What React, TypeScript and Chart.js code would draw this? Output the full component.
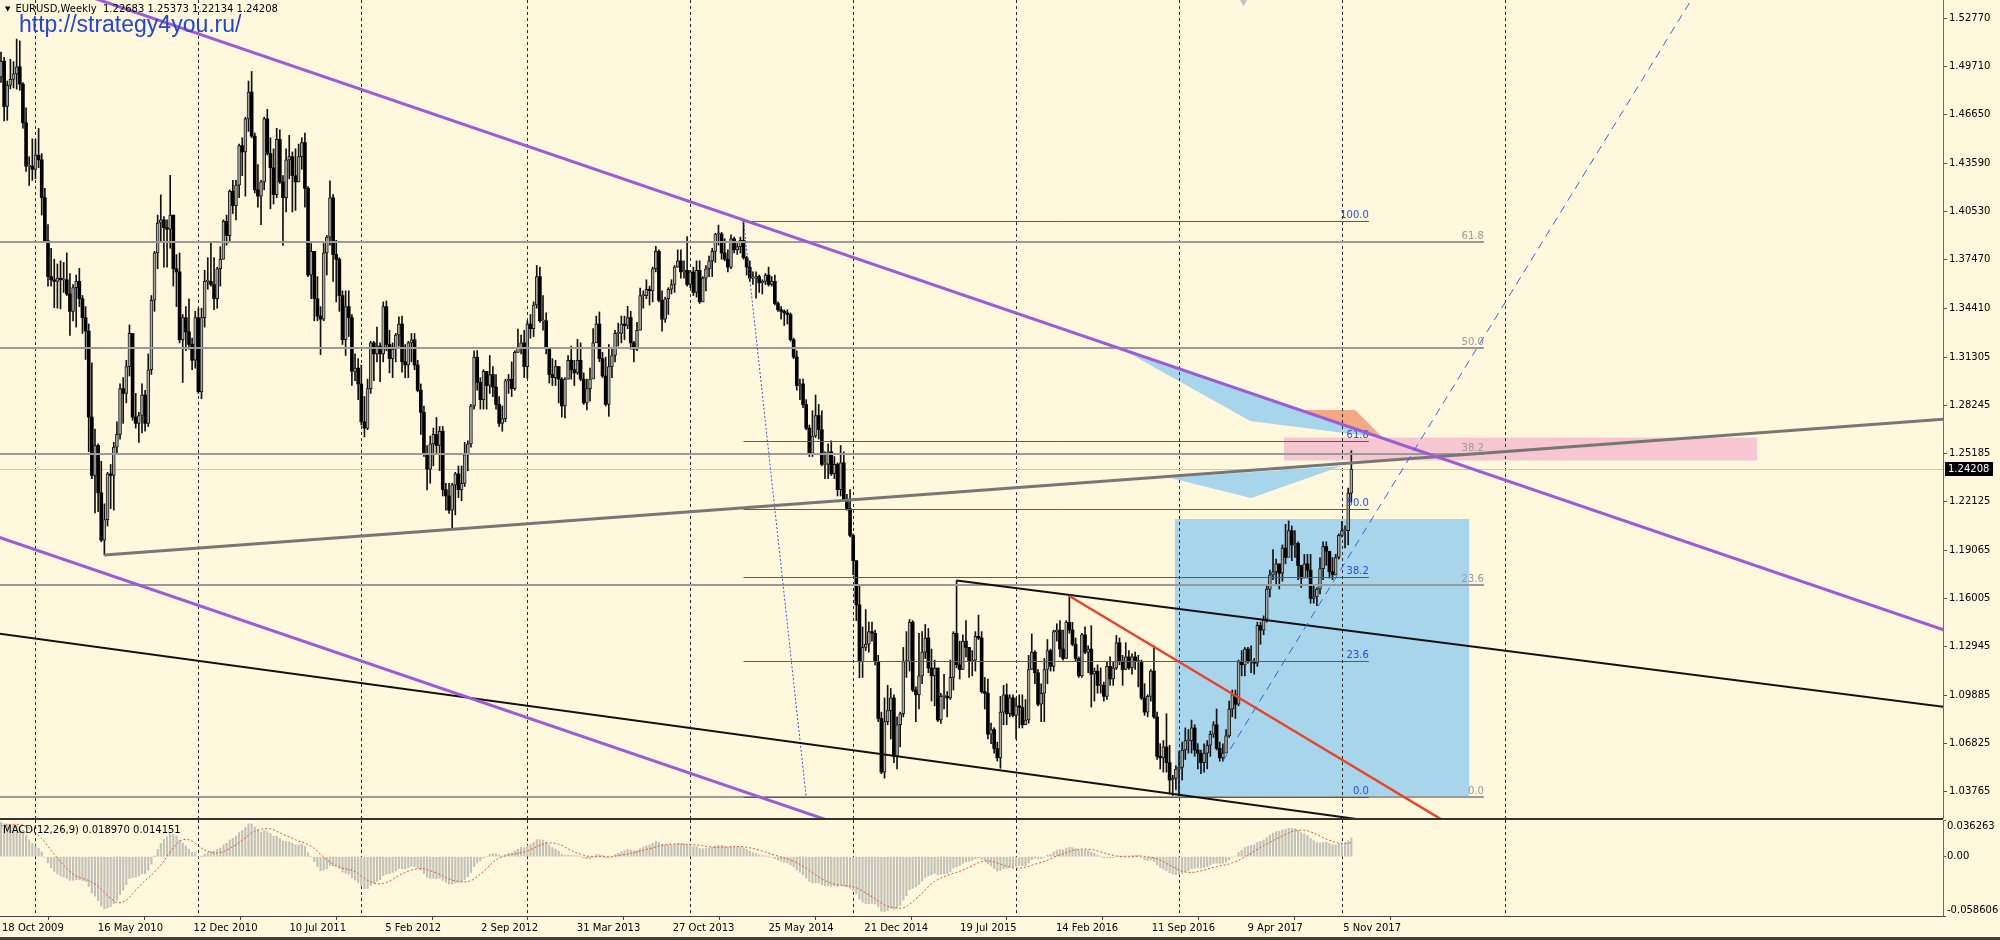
import React, { useEffect, useRef } from "react";
import { Chart, registerables } from "chart.js";

Chart.register(...registerables);

const BG = "#fff8dc";
const FONT = '"DejaVu Sans", sans-serif';

// ---- weekly EURUSD candles, bar 0 = week of 18 Oct 2009 ----
const FIRST_OPEN = 1.4905;
const CLOSE = [
  1.5005, 1.4718, 1.4853, 1.4890, 1.4925, 1.4970, 1.4860, 1.4615, 1.4340, 1.4340,
  1.4320, 1.4410, 1.4380, 1.4140, 1.3867, 1.3640, 1.3620, 1.3610, 1.3630, 1.3620,
  1.3620, 1.3530, 1.3420, 1.3570, 1.3610, 1.3500, 1.3380, 1.3295, 1.2750, 1.2380,
  1.2570, 1.2270, 1.1970, 1.2100, 1.2390, 1.2380, 1.2560, 1.2640, 1.2930, 1.2900,
  1.3070, 1.3280, 1.2750, 1.2710, 1.2760, 1.2890, 1.2710, 1.3050, 1.3490, 1.3790,
  1.3980, 1.4000, 1.3950, 1.3940, 1.4030, 1.3690, 1.3670, 1.3240, 1.3380, 1.3290,
  1.3210, 1.3110, 1.3380, 1.2910, 1.3380, 1.3610, 1.3610, 1.3590, 1.3500, 1.3690,
  1.3750, 1.3990, 1.3900, 1.4180, 1.4090, 1.4220, 1.4470, 1.4430, 1.4640, 1.4810,
  1.4530, 1.4190, 1.4150, 1.4240, 1.4640, 1.4420, 1.4330, 1.4160, 1.4510, 1.4240,
  1.4140, 1.4380, 1.4400, 1.4280, 1.4240, 1.4400, 1.4490, 1.4200, 1.3650, 1.3800,
  1.3500, 1.3390, 1.3370, 1.3790, 1.3890, 1.4140, 1.3780, 1.3750, 1.3520, 1.3240,
  1.3450, 1.3380, 1.3040, 1.3060, 1.2960, 1.2720, 1.2680, 1.2930, 1.3220, 1.3150,
  1.3200, 1.3150, 1.3450, 1.3210, 1.3120, 1.3180, 1.3270, 1.3340, 1.3100, 1.3080,
  1.3220, 1.3240, 1.3080, 1.2920, 1.2780, 1.2520, 1.2420, 1.2580, 1.2640, 1.2570,
  1.2660, 1.2290, 1.2250, 1.2160, 1.2320, 1.2390, 1.2290, 1.2330, 1.2510, 1.2580,
  1.2820, 1.3130, 1.2970, 1.2860, 1.3040, 1.2950, 1.3020, 1.2940, 1.2830, 1.2710,
  1.2740, 1.2980, 1.2990, 1.2930, 1.3160, 1.3190, 1.3220, 1.3070, 1.3340, 1.3310,
  1.3460, 1.3640, 1.3360, 1.3360, 1.3190, 1.3020, 1.3000, 1.3070, 1.2990, 1.2820,
  1.2990, 1.3110, 1.3050, 1.3030, 1.3110, 1.2990, 1.2840, 1.2930, 1.2990, 1.3220,
  1.3340, 1.3120, 1.3010, 1.2830, 1.3070, 1.3140, 1.3280, 1.3280, 1.3340, 1.3330,
  1.3380, 1.3220, 1.3180, 1.3300, 1.3520, 1.3520, 1.3560, 1.3550, 1.3690, 1.3800,
  1.3490, 1.3370, 1.3500, 1.3560, 1.3590, 1.3700, 1.3740, 1.3670, 1.3680, 1.3590,
  1.3670, 1.3540, 1.3680, 1.3480, 1.3630, 1.3690, 1.3740, 1.3800, 1.3910, 1.3910,
  1.3790, 1.3750, 1.3700, 1.3880, 1.3810, 1.3830, 1.3870, 1.3760, 1.3700, 1.3630,
  1.3630, 1.3640, 1.3600, 1.3610, 1.3650, 1.3590, 1.3610, 1.3470, 1.3430, 1.3420,
  1.3410, 1.3400, 1.3240, 1.3130, 1.2950, 1.2960, 1.2830, 1.2680, 1.2520, 1.2630,
  1.2760, 1.2670, 1.2450, 1.2450, 1.2530, 1.2390, 1.2450, 1.2290, 1.2460, 1.2230,
  1.2170, 1.2000, 1.1840, 1.1560, 1.1200, 1.1290, 1.1310, 1.1390, 1.1380, 1.1200,
  1.0840, 1.0500, 1.0820, 1.0890, 1.0970, 1.0600, 1.0800, 1.0870, 1.1200, 1.1200,
  1.1450, 1.1020, 1.0990, 1.1110, 1.1260, 1.1350, 1.1160, 1.1110, 1.1160, 1.0830,
  1.0980, 1.0980, 1.0970, 1.1100, 1.1380, 1.1180, 1.1150, 1.1330, 1.1290, 1.1200,
  1.1210, 1.1360, 1.1350, 1.1010, 1.1000, 1.0740, 1.0770, 1.0650, 1.0590, 1.0880,
  1.0990, 1.0870, 1.0970, 1.0860, 1.0920, 1.0910, 1.0800, 1.0830, 1.1150, 1.1260,
  1.1130, 1.0930, 1.1000, 1.1150, 1.1270, 1.1170, 1.1390, 1.1400, 1.1280, 1.1220,
  1.1450, 1.1400, 1.1310, 1.1220, 1.1110, 1.1370, 1.1260, 1.1280, 1.1120, 1.1140,
  1.1050, 1.1050, 1.0980, 1.1170, 1.1090, 1.1160, 1.1320, 1.1200, 1.1150, 1.1230,
  1.1160, 1.1230, 1.1200, 1.1200, 1.0970, 1.0880, 1.0980, 1.1140, 1.0850, 1.0600,
  1.0590, 1.0660, 1.0560, 1.0450, 1.0460, 1.0520, 1.0530, 1.0640, 1.0700, 1.0700,
  1.0780, 1.0640, 1.0620, 1.0560, 1.0620, 1.0670, 1.0740, 1.0800, 1.0650, 1.0590,
  1.0620, 1.0730, 1.0900, 1.0990, 1.0930, 1.1200, 1.1180, 1.1280, 1.1200, 1.1200,
  1.1190, 1.1430, 1.1400, 1.1470, 1.1660, 1.1750, 1.1770, 1.1820, 1.1760, 1.1920,
  1.1860, 1.2030, 1.1940, 1.1950, 1.1810, 1.1730, 1.1820, 1.1780, 1.1600, 1.1610,
  1.1660, 1.1790, 1.1930, 1.1900, 1.1770, 1.1750, 1.1860, 1.2000, 1.2030, 1.2030,
  1.2268, 1.24208,
];
const HIGH = [
  1.5063, 1.5030, 1.4880, 1.5017, 1.5002, 1.5145, 1.5134, 1.4870, 1.4710, 1.4400,
  1.4513, 1.4510, 1.4579, 1.4420, 1.4200, 1.3970, 1.3820, 1.3750, 1.3720, 1.3740,
  1.3730, 1.3790, 1.3660, 1.3590, 1.3650, 1.3692, 1.3520, 1.3450, 1.3340, 1.3094,
  1.2674, 1.2580, 1.2470, 1.2200, 1.2400, 1.2450, 1.2590, 1.2720, 1.2960, 1.3000,
  1.3110, 1.3334, 1.3240, 1.2900, 1.2780, 1.2960, 1.2920, 1.3150, 1.3520, 1.3800,
  1.4030, 1.4158, 1.4020, 1.4000, 1.4282, 1.4030, 1.3780, 1.3790, 1.3400, 1.3450,
  1.3499, 1.3250, 1.3420, 1.3440, 1.3440, 1.3680, 1.3760, 1.3862, 1.3760, 1.3700,
  1.3830, 1.4000, 1.4030, 1.4190, 1.4250, 1.4250, 1.4480, 1.4520, 1.4650, 1.4880,
  1.4940, 1.4550, 1.4350, 1.4250, 1.4650, 1.4700, 1.4520, 1.4450, 1.4580, 1.4570,
  1.4280, 1.4450, 1.4535, 1.4430, 1.4450, 1.4480, 1.4520, 1.4549, 1.4210, 1.3850,
  1.3790, 1.3640, 1.3450, 1.3850, 1.3900, 1.4247, 1.4160, 1.3870, 1.3760, 1.3550,
  1.3550, 1.3550, 1.3400, 1.3150, 1.3120, 1.3080, 1.2880, 1.2990, 1.3230, 1.3230,
  1.3320, 1.3220, 1.3480, 1.3486, 1.3300, 1.3220, 1.3280, 1.3385, 1.3390, 1.3210,
  1.3230, 1.3280, 1.3280, 1.3110, 1.2960, 1.2820, 1.2570, 1.2630, 1.2680, 1.2747,
  1.2690, 1.2690, 1.2330, 1.2330, 1.2330, 1.2400, 1.2440, 1.2440, 1.2590, 1.2600,
  1.2830, 1.3170, 1.3172, 1.3000, 1.3050, 1.3030, 1.3140, 1.3070, 1.3020, 1.2880,
  1.2820, 1.2990, 1.3020, 1.3100, 1.3170, 1.3308, 1.3270, 1.3300, 1.3360, 1.3400,
  1.3480, 1.3711, 1.3700, 1.3520, 1.3410, 1.3190, 1.3120, 1.3110, 1.3070, 1.3000,
  1.3000, 1.3140, 1.3200, 1.3110, 1.3243, 1.3220, 1.3030, 1.2990, 1.3060, 1.3310,
  1.3390, 1.3416, 1.3160, 1.3130, 1.3210, 1.3190, 1.3300, 1.3345, 1.3390, 1.3390,
  1.3452, 1.3420, 1.3230, 1.3350, 1.3568, 1.3550, 1.3620, 1.3580, 1.3700, 1.3832,
  1.3810, 1.3550, 1.3510, 1.3570, 1.3620, 1.3710, 1.3810, 1.3810, 1.3740, 1.3893,
  1.3680, 1.3700, 1.3740, 1.3740, 1.3640, 1.3710, 1.3770, 1.3820, 1.3915, 1.3967,
  1.3920, 1.3880, 1.3810, 1.3905, 1.3890, 1.3850, 1.3890, 1.3993, 1.3770, 1.3740,
  1.3670, 1.3670, 1.3650, 1.3620, 1.3660, 1.3700, 1.3640, 1.3650, 1.3480, 1.3450,
  1.3430, 1.3430, 1.3410, 1.3250, 1.3170, 1.2990, 1.2990, 1.2860, 1.2700, 1.2790,
  1.2890, 1.2830, 1.2790, 1.2530, 1.2580, 1.2600, 1.2500, 1.2460, 1.2570, 1.2530,
  1.2260, 1.2290, 1.2010, 1.1840, 1.1680, 1.1420, 1.1530, 1.1450, 1.1450, 1.1400,
  1.1240, 1.0880, 1.0970, 1.1050, 1.1030, 1.0990, 1.0850, 1.0880, 1.1290, 1.1390,
  1.1467, 1.1460, 1.1040, 1.1380, 1.1390, 1.1436, 1.1410, 1.1280, 1.1210, 1.1140,
  1.1000, 1.1120, 1.1010, 1.1210, 1.1390, 1.1714, 1.1330, 1.1370, 1.1460, 1.1290,
  1.1270, 1.1390, 1.1495, 1.1390, 1.1100, 1.1090, 1.0810, 1.0780, 1.0690, 1.0980,
  1.1050, 1.1059, 1.0990, 1.0990, 1.0970, 1.0990, 1.0990, 1.0960, 1.1240, 1.1376,
  1.1270, 1.1150, 1.1060, 1.1220, 1.1340, 1.1280, 1.1400, 1.1440, 1.1460, 1.1400,
  1.1460, 1.1616, 1.1450, 1.1350, 1.1230, 1.1380, 1.1420, 1.1300, 1.1428, 1.1160,
  1.1180, 1.1160, 1.1070, 1.1200, 1.1230, 1.1200, 1.1366, 1.1350, 1.1240, 1.1320,
  1.1270, 1.1250, 1.1260, 1.1240, 1.1210, 1.1060, 1.0990, 1.1150, 1.1300, 1.0880,
  1.0680, 1.0700, 1.0870, 1.0670, 1.0480, 1.0540, 1.0630, 1.0690, 1.0780, 1.0770,
  1.0830, 1.0800, 1.0680, 1.0640, 1.0680, 1.0700, 1.0760, 1.0820, 1.0900, 1.0690,
  1.0680, 1.0770, 1.0950, 1.1020, 1.1020, 1.1210, 1.1270, 1.1290, 1.1290, 1.1300,
  1.1220, 1.1450, 1.1450, 1.1490, 1.1680, 1.1780, 1.1910, 1.1850, 1.1800, 1.1940,
  1.2070, 1.2092, 1.2060, 1.2030, 1.1960, 1.1790, 1.1880, 1.1880, 1.1880, 1.1690,
  1.1670, 1.1860, 1.1960, 1.1960, 1.1880, 1.1860, 1.1880, 1.2010, 1.2090, 1.2060,
  1.2300, 1.25373,
];
const LOW = [
  1.4870, 1.4627, 1.4630, 1.4830, 1.4836, 1.4828, 1.4820, 1.4580, 1.4307, 1.4218,
  1.4250, 1.4260, 1.4330, 1.4030, 1.3857, 1.3580, 1.3580, 1.3443, 1.3440, 1.3436,
  1.3540, 1.3520, 1.3267, 1.3360, 1.3320, 1.3450, 1.3280, 1.3115, 1.2530, 1.2360,
  1.2143, 1.2150, 1.1960, 1.1876, 1.2060, 1.2170, 1.2160, 1.2520, 1.2610, 1.2710,
  1.2840, 1.3010, 1.2730, 1.2680, 1.2589, 1.2650, 1.2660, 1.2690, 1.3020, 1.3420,
  1.3690, 1.3860, 1.3700, 1.3700, 1.3820, 1.3580, 1.3450, 1.3220, 1.2969, 1.3170,
  1.3180, 1.3050, 1.3060, 1.2900, 1.2867, 1.3320, 1.3560, 1.3580, 1.3430, 1.3440,
  1.3580, 1.3750, 1.3840, 1.3860, 1.4040, 1.4000, 1.4140, 1.4280, 1.4150, 1.4560,
  1.4520, 1.4170, 1.4080, 1.3969, 1.4190, 1.4410, 1.4070, 1.4100, 1.4140, 1.4230,
  1.3838, 1.4050, 1.4260, 1.4050, 1.4060, 1.4240, 1.4320, 1.4080, 1.3640, 1.3500,
  1.3360, 1.3360, 1.3145, 1.3360, 1.3650, 1.3840, 1.3610, 1.3480, 1.3420, 1.3210,
  1.3140, 1.3260, 1.2950, 1.2980, 1.2860, 1.2700, 1.2624, 1.2670, 1.2900, 1.2980,
  1.3100, 1.2975, 1.3100, 1.3170, 1.3030, 1.3000, 1.3100, 1.3200, 1.3035, 1.3000,
  1.3000, 1.3100, 1.3050, 1.2910, 1.2640, 1.2500, 1.2288, 1.2330, 1.2440, 1.2520,
  1.2410, 1.2250, 1.2160, 1.2140, 1.2042, 1.2130, 1.2240, 1.2220, 1.2310, 1.2410,
  1.2560, 1.2800, 1.2920, 1.2800, 1.2800, 1.2800, 1.2900, 1.2880, 1.2800, 1.2690,
  1.2660, 1.2720, 1.2900, 1.2880, 1.2920, 1.3160, 1.3150, 1.3000, 1.2995, 1.3250,
  1.3260, 1.3440, 1.3350, 1.3300, 1.3150, 1.2966, 1.2950, 1.2950, 1.2840, 1.2750,
  1.2745, 1.2990, 1.2990, 1.2950, 1.3020, 1.2980, 1.2830, 1.2796, 1.2850, 1.3020,
  1.3250, 1.3100, 1.3000, 1.2820, 1.2755, 1.3000, 1.3100, 1.3200, 1.3220, 1.3240,
  1.3310, 1.3180, 1.3100, 1.3170, 1.3300, 1.3440, 1.3500, 1.3460, 1.3480, 1.3670,
  1.3480, 1.3295, 1.3350, 1.3400, 1.3530, 1.3540, 1.3700, 1.3630, 1.3630, 1.3580,
  1.3570, 1.3520, 1.3510, 1.3470, 1.3480, 1.3550, 1.3640, 1.3640, 1.3730, 1.3840,
  1.3750, 1.3740, 1.3670, 1.3690, 1.3790, 1.3780, 1.3790, 1.3750, 1.3650, 1.3610,
  1.3590, 1.3503, 1.3540, 1.3530, 1.3590, 1.3580, 1.3580, 1.3460, 1.3420, 1.3370,
  1.3330, 1.3340, 1.3230, 1.3120, 1.2920, 1.2860, 1.2810, 1.2670, 1.2500, 1.2500,
  1.2620, 1.2610, 1.2440, 1.2360, 1.2360, 1.2380, 1.2360, 1.2250, 1.2250, 1.2220,
  1.2160, 1.1990, 1.1750, 1.1460, 1.1098, 1.1100, 1.1270, 1.1260, 1.1330, 1.1180,
  1.0820, 1.0490, 1.0462, 1.0800, 1.0710, 1.0560, 1.0520, 1.0660, 1.0850, 1.1100,
  1.1140, 1.1010, 1.0820, 1.0900, 1.1060, 1.1220, 1.1130, 1.0950, 1.0920, 1.0820,
  1.0809, 1.0900, 1.0850, 1.0960, 1.1020, 1.1160, 1.1090, 1.1150, 1.1230, 1.1100,
  1.1110, 1.1140, 1.1340, 1.1000, 1.0900, 1.0710, 1.0680, 1.0620, 1.0570, 1.0524,
  1.0800, 1.0800, 1.0850, 1.0850, 1.0710, 1.0780, 1.0780, 1.0800, 1.0810, 1.1150,
  1.1060, 1.0920, 1.0820, 1.0820, 1.1060, 1.1140, 1.1140, 1.1330, 1.1230, 1.1210,
  1.1220, 1.1380, 1.1300, 1.1200, 1.1100, 1.1100, 1.1250, 1.1130, 1.0912, 1.0950,
  1.1000, 1.1000, 1.0950, 1.0960, 1.1050, 1.1050, 1.1150, 1.1180, 1.1050, 1.1150,
  1.1150, 1.1120, 1.1150, 1.1040, 1.0960, 1.0860, 1.0850, 1.0950, 1.0840, 1.0580,
  1.0520, 1.0500, 1.0500, 1.0370, 1.0352, 1.0390, 1.0340, 1.0450, 1.0580, 1.0620,
  1.0620, 1.0600, 1.0520, 1.0490, 1.0500, 1.0520, 1.0600, 1.0720, 1.0640, 1.0570,
  1.0570, 1.0640, 1.0720, 1.0850, 1.0840, 1.0920, 1.1110, 1.1110, 1.1190, 1.1130,
  1.1120, 1.1170, 1.1310, 1.1370, 1.1450, 1.1610, 1.1720, 1.1690, 1.1660, 1.1710,
  1.1820, 1.1900, 1.1840, 1.1860, 1.1720, 1.1670, 1.1730, 1.1730, 1.1570, 1.1570,
  1.1554, 1.1630, 1.1720, 1.1810, 1.1730, 1.1720, 1.1750, 1.1850, 1.1990, 1.1920,
  1.1940, 1.22134,
];
// closes of the weeks before the first visible bar (Mar–Oct 2009), only to warm up the MACD
const PRE_CLOSE = [
  1.2920, 1.3580, 1.3580, 1.3270, 1.3500, 1.3200, 1.3240, 1.3280, 1.3380, 1.3490,
  1.3990, 1.4140, 1.4270, 1.3920, 1.3990, 1.4030, 1.4030, 1.3940, 1.4100, 1.4220,
  1.4080, 1.4340, 1.4180, 1.4320, 1.4330, 1.4310, 1.4570, 1.4720, 1.4670, 1.4580,
  1.4720, 1.4880,
];

// ---- axes ----
const DATE_LABELS = [
  "18 Oct 2009", "16 May 2010", "12 Dec 2010", "10 Jul 2011", "5 Feb 2012",
  "2 Sep 2012", "31 Mar 2013", "27 Oct 2013", "25 May 2014", "21 Dec 2014",
  "19 Jul 2015", "14 Feb 2016", "11 Sep 2016", "9 Apr 2017", "5 Nov 2017",
];
const DATE_LABEL_BARS = [0, 30.58, 61.16, 91.74, 122.32, 152.9, 183.48, 214.06, 244.64, 275.22, 305.8, 336.38, 366.96, 397.54, 428.12];
const YEAR_GRID_BARS = [11, 63, 115, 168, 220, 272, 324, 376, 428, 480];
const PRICE_TICKS = [1.5277, 1.4971, 1.4665, 1.4359, 1.4053, 1.3747, 1.3441, 1.31305, 1.28245, 1.25185, 1.22125, 1.19065, 1.16005, 1.12945, 1.09885, 1.06825, 1.03765];
const MACD_TICKS = [0.036263, 0, -0.058606];
const MACD_TICK_LABELS = ["0.036263", "0.00", "-0.058606"];
const LAST_PRICE = 1.24208;

const BAR_MIN = -0.32;
const BAR_MAX = 619.85;
const PRICE_MIN = 1.02092;
const PRICE_MAX = 1.5393;
const MACD_MIN = -0.058606;
const MACD_MAX = 0.036263;

// ---- drawn objects, in (bar, price) ----
const PURPLE_UPPER = [[0, 1.5606], [620, 1.1402]];
const PURPLE_LOWER = [[-1, 1.1991], [300, 0.995]];
const BLACK_LOWER = [[-1, 1.1378], [440, 1.0183]];
const BLACK_UPPER = [[305, 1.1714], [620, 1.0914]];
const RED_LINE = [[341, 1.1616], [470, 1.0078]];
const GREY_RISING = [[33, 1.1876], [620, 1.2737]];
const BLUE_DOTTED = [[237, 1.3993], [257, 1.034]];
const BLUE_DASHED = [[390, 1.057], [540, 1.5409]];
const GREY_FIB_PRICES = [1.6037, 1.034];
const GREY_FIB_BARS = [-1, 473.3];
const GREY_FIB_LEVELS = [0, 23.6, 38.2, 50, 61.8];
const BLUE_FIB_PRICES = [1.3993, 1.034];
const BLUE_FIB_BARS = [237, 436.6];
const BLUE_FIB_LEVELS = [0, 23.6, 38.2, 50, 61.8, 100];
const BLUE_BOX = [[374.7, 1.034], [468.6, 1.2104]];
const PINK_BOX = [[409.5, 1.2475], [560.5, 1.262]];
const BLUE_TRI_UPPER = [[357.8, 1.318], [398.7, 1.2725], [440, 1.262]];
const BLUE_TRI_LOWER = [[373, 1.2366], [399, 1.2237], [428, 1.244]];
const ORANGE_TRI = [[414.6, 1.2795], [432.2, 1.2795], [441.4, 1.2613]];
const GREY_MARK = [[394.6, 1.5425], [398.6, 1.5425], [396.6, 1.5352]];

function emaSeries(vals: number[], p: number) {
  const k = 2 / (p + 1);
  const out: number[] = [];
  vals.forEach((v, i) => out.push(i === 0 ? v : v * k + out[i - 1] * (1 - k)));
  return out;
}

export default function App() {
  const mainRef = useRef<HTMLCanvasElement>(null);
  const macdRef = useRef<HTMLCanvasElement>(null);

  useEffect(() => {
    document.body.style.margin = "0";
    document.body.style.background = BG;
    Chart.defaults.font.family = FONT;
    Chart.defaults.font.size = 10;

    const opens = CLOSE.map((c, i) => (i === 0 ? FIRST_OPEN : CLOSE[i - 1]));
    const isBull = (i: number) => CLOSE[i] >= opens[i];

    const all = [...PRE_CLOSE, ...CLOSE];
    const e12 = emaSeries(all, 12);
    const e26 = emaSeries(all, 26);
    const mAll = all.map((_, i) => e12[i] - e26[i]);
    const sAll = mAll.map((_, i) => {
      const w = mAll.slice(Math.max(0, i - 8), i + 1);
      return w.reduce((a, b) => a + b, 0) / w.length;
    });
    const macd = mAll.slice(PRE_CLOSE.length);
    const signal = sAll.slice(PRE_CLOSE.length);

    const mainPlugin = {
      id: "mainObjects",
      beforeDatasetsDraw(chart: any) {
        const { ctx, chartArea: a, scales } = chart;
        const X = (b: number) => scales.x.getPixelForValue(b);
        const Y = (p: number) => scales.y.getPixelForValue(p);
        ctx.save();
        ctx.beginPath();
        ctx.rect(a.left, a.top, a.right - a.left, a.bottom - a.top);
        ctx.clip();
        const box = (r: number[][], color: string) => {
          const x0 = X(r[0][0]), x1 = X(r[1][0]), y0 = Y(r[1][1]), y1 = Y(r[0][1]);
          ctx.fillStyle = color;
          ctx.fillRect(x0, y0, x1 - x0, y1 - y0);
        };
        const tri = (pts: number[][], color: string) => {
          ctx.fillStyle = color;
          ctx.beginPath();
          pts.forEach((p, i) => (i === 0 ? ctx.moveTo(X(p[0]), Y(p[1])) : ctx.lineTo(X(p[0]), Y(p[1]))));
          ctx.closePath();
          ctx.fill();
        };
        box(BLUE_BOX, "#a7d5ec");
        box(PINK_BOX, "#f6c6d1");
        tri(BLUE_TRI_UPPER, "#a7d5ec");
        tri(BLUE_TRI_LOWER, "#a7d5ec");
        tri(ORANGE_TRI, "#f3a984");
        tri(GREY_MARK, "#c9c2c2");
        ctx.strokeStyle = "#2a2a2a";
        ctx.lineWidth = 1;
        ctx.setLineDash([3, 3]);
        YEAR_GRID_BARS.forEach((b) => {
          const px = Math.round(X(b)) + 0.5;
          ctx.beginPath();
          ctx.moveTo(px, a.top);
          ctx.lineTo(px, a.bottom);
          ctx.stroke();
        });
        ctx.setLineDash([]);
        const ly = Math.round(Y(LAST_PRICE)) + 0.5;
        ctx.strokeStyle = "#c8c8c8";
        ctx.beginPath();
        ctx.moveTo(a.left, ly);
        ctx.lineTo(a.right, ly);
        ctx.stroke();
        ctx.restore();
      },
      afterDatasetsDraw(chart: any) {
        const { ctx, chartArea: a, scales } = chart;
        const X = (b: number) => scales.x.getPixelForValue(b);
        const Y = (p: number) => scales.y.getPixelForValue(p);
        ctx.save();
        ctx.beginPath();
        ctx.rect(a.left, a.top, a.right - a.left, a.bottom - a.top);
        ctx.clip();
        ctx.font = "10px " + FONT;
        const fib = (prices: number[], bars: number[], levels: number[], lc: string, tc: string, lw: number) => {
          const [hi, lo] = prices;
          const x0 = X(bars[0]), x1 = X(bars[1]);
          levels.forEach((l) => {
            const py = Math.round(Y(lo + ((hi - lo) * l) / 100)) + (lw === 1 ? 0.5 : 0);
            ctx.strokeStyle = lc;
            ctx.lineWidth = lw;
            ctx.beginPath();
            ctx.moveTo(x0, py);
            ctx.lineTo(x1, py);
            ctx.stroke();
            ctx.fillStyle = tc;
            ctx.textAlign = "right";
            ctx.textBaseline = "bottom";
            ctx.fillText(l.toFixed(1), x1, py - 1);
          });
        };
        fib(GREY_FIB_PRICES, GREY_FIB_BARS, GREY_FIB_LEVELS, "#9a9a9a", "#9a9a9a", 2);
        fib(BLUE_FIB_PRICES, BLUE_FIB_BARS, BLUE_FIB_LEVELS, "#3a56d4", "#2a4fe0", 1);
        const seg = (pts: number[][], color: string, w: number, dash: number[] = []) => {
          ctx.strokeStyle = color;
          ctx.lineWidth = w;
          ctx.setLineDash(dash);
          ctx.beginPath();
          pts.forEach((p, i) => (i === 0 ? ctx.moveTo(X(p[0]), Y(p[1])) : ctx.lineTo(X(p[0]), Y(p[1]))));
          ctx.stroke();
          ctx.setLineDash([]);
        };
        seg(BLUE_DOTTED, "#3a56d4", 1, [2, 2]);
        seg(BLACK_LOWER, "#111111", 2);
        seg(BLACK_UPPER, "#111111", 2);
        seg(RED_LINE, "#e8452c", 2.5);
        seg(GREY_RISING, "#777777", 3);
        seg(PURPLE_UPPER, "#9d5bd6", 3);
        seg(PURPLE_LOWER, "#9d5bd6", 3);
        seg(BLUE_DASHED, "#3466dd", 1, [8, 6]);
        ctx.restore();
      },
      afterDraw(chart: any) {
        const { ctx, chartArea: a, scales } = chart;
        ctx.save();
        ctx.fillStyle = "#333333";
        ctx.fillRect(0, a.bottom, a.right, 2);
        const py = Math.round(scales.y.getPixelForValue(LAST_PRICE));
        ctx.fillStyle = "#000000";
        ctx.fillRect(a.right + 2, py - 7, 48, 14);
        ctx.fillStyle = "#ffffff";
        ctx.font = "10px " + FONT;
        ctx.textAlign = "left";
        ctx.textBaseline = "middle";
        ctx.fillText(LAST_PRICE.toFixed(5), a.right + 5, py + 0.5);
        ctx.restore();
      },
    };

    const macdPlugin = {
      id: "macdObjects",
      beforeDatasetsDraw(chart: any) {
        const { ctx, chartArea: a, scales } = chart;
        ctx.save();
        ctx.strokeStyle = "#2a2a2a";
        ctx.lineWidth = 1;
        ctx.setLineDash([3, 3]);
        YEAR_GRID_BARS.forEach((b) => {
          const px = Math.round(scales.x.getPixelForValue(b)) + 0.5;
          if (px > a.right) return;
          ctx.beginPath();
          ctx.moveTo(px, a.top);
          ctx.lineTo(px, a.bottom);
          ctx.stroke();
        });
        ctx.restore();
      },
      afterDraw(chart: any) {
        const { ctx, chartArea: a, scales } = chart;
        ctx.save();
        ctx.font = "10px " + FONT;
        ctx.fillStyle = "#000000";
        ctx.textAlign = "left";
        MACD_TICKS.forEach((v, i) => {
          const y = scales.y.getPixelForValue(v);
          ctx.textBaseline = i === 0 ? "top" : i === MACD_TICKS.length - 1 ? "bottom" : "middle";
          ctx.fillText(MACD_TICK_LABELS[i], a.right + 4, y + (i === 0 ? 1 : i === MACD_TICKS.length - 1 ? -1 : 0));
        });
        ctx.restore();
      },
    };

    const yAxisFit = (s: any) => {
      s.width = 57;
      s.paddingTop = 0;
      s.paddingBottom = 0;
    };

    const main = new Chart(mainRef.current as HTMLCanvasElement, {
      type: "bar",
      data: {
        datasets: [
          {
            type: "bar",
            data: CLOSE.map((c, i) => ({ x: i, y: [opens[i], c] })) as any,
            barThickness: 3,
            minBarLength: 1,
            grouped: false,
            order: 1,
            borderSkipped: false,
            backgroundColor: (c: any) => (isBull(c.dataIndex) ? "#a9a9a2" : "#000000"),
            borderColor: "#1a1a1a",
            borderWidth: (c: any) => (isBull(c.dataIndex) ? 1 : 0),
          } as any,
          {
            type: "bar",
            data: CLOSE.map((_, i) => ({ x: i, y: [LOW[i], HIGH[i]] })) as any,
            barThickness: 1,
            grouped: false,
            order: 2,
            backgroundColor: "#111111",
          } as any,
        ],
      },
      options: {
        responsive: false,
        animation: false,
        devicePixelRatio: 1,
        events: [],
        layout: { padding: { top: 0, bottom: 2, left: 0, right: 0 } },
        plugins: { legend: { display: false }, tooltip: { enabled: false } },
        scales: {
          x: { type: "linear", min: BAR_MIN, max: BAR_MAX, offset: false, display: false },
          y: {
            type: "linear",
            position: "right",
            min: PRICE_MIN,
            max: PRICE_MAX,
            afterBuildTicks: (s: any) => {
              s.ticks = PRICE_TICKS.map((v) => ({ value: v }));
            },
            afterFit: yAxisFit,
            grid: { drawOnChartArea: false, drawTicks: true, tickLength: 4, color: "#555555" },
            border: { display: true, color: "#6a6a6a", width: 1 },
            ticks: {
              autoSkip: false,
              color: "#000000",
              padding: 2,
              font: { family: FONT, size: 10 },
              callback: (v: any) => Number(v).toFixed(5),
            },
          },
        },
      } as any,
      plugins: [mainPlugin],
    });

    const macdChart = new Chart(macdRef.current as HTMLCanvasElement, {
      type: "bar",
      data: {
        datasets: [
          {
            type: "line",
            data: signal.map((v, i) => ({ x: i, y: v })) as any,
            borderColor: "#e0553a",
            borderWidth: 1,
            borderDash: [2, 2],
            pointRadius: 0,
            tension: 0,
            order: 1,
          } as any,
          {
            type: "bar",
            data: macd.map((v, i) => ({ x: i, y: v })) as any,
            barThickness: 1.5,
            grouped: false,
            order: 2,
            backgroundColor: "#c2c2ba",
          } as any,
        ],
      },
      options: {
        responsive: false,
        animation: false,
        devicePixelRatio: 1,
        events: [],
        layout: { padding: { top: 12, bottom: 0, left: 0, right: 0 } },
        plugins: { legend: { display: false }, tooltip: { enabled: false } },
        scales: {
          x: {
            type: "linear",
            position: "bottom",
            min: BAR_MIN,
            max: BAR_MAX,
            offset: false,
            afterBuildTicks: (s: any) => {
              s.ticks = DATE_LABEL_BARS.map((v) => ({ value: v }));
            },
            afterFit: (s: any) => {
              s.height = 24;
              s.paddingLeft = 0;
              s.paddingRight = 0;
            },
            grid: { drawOnChartArea: false, drawTicks: true, tickLength: 4, color: "#444444" },
            border: { display: true, color: "#444444", width: 1 },
            ticks: {
              autoSkip: false,
              maxRotation: 0,
              minRotation: 0,
              align: "start",
              padding: 2,
              labelOffset: 1,
              color: "#000000",
              font: { family: FONT, size: 10 },
              callback: (_v: any, i: number) => DATE_LABELS[i],
            },
          },
          y: {
            type: "linear",
            position: "right",
            min: MACD_MIN,
            max: MACD_MAX,
            afterBuildTicks: (s: any) => {
              s.ticks = MACD_TICKS.map((v) => ({ value: v }));
            },
            afterFit: yAxisFit,
            grid: { drawOnChartArea: false, drawTicks: true, tickLength: 3, color: "#555555" },
            border: { display: true, color: "#6a6a6a", width: 1 },
            ticks: { display: false },
          },
        },
      } as any,
      plugins: [macdPlugin],
    });

    return () => {
      main.destroy();
      macdChart.destroy();
    };
  }, []);

  return (
    <div style={{ position: "fixed", left: 0, top: 0, width: 2000, height: 940, background: BG, overflow: "hidden" }}>
      <canvas ref={mainRef} width={2000} height={820} style={{ position: "absolute", left: 0, top: 0, width: 2000, height: 820 }} />
      <canvas ref={macdRef} width={2000} height={132} style={{ position: "absolute", left: 0, top: 808, width: 2000, height: 132 }} />
      <div style={{ position: "absolute", left: 5, top: 3, font: "10px " + FONT, color: "#000", whiteSpace: "pre", lineHeight: "12px" }}>
        <span style={{ fontSize: 7, marginRight: 5, verticalAlign: "1px" }}>▼</span>
        {"EURUSD,Weekly  1.22683 1.25373 1.22134 1.24208"}
      </div>
      <div style={{ position: "absolute", left: 19, top: 13, font: '23px "Liberation Sans", Arial, sans-serif', color: "#2145e0", lineHeight: "23px", whiteSpace: "pre" }}>
        http://strategy4you.ru/
      </div>
      <div style={{ position: "absolute", left: 3, top: 824, font: "10px " + FONT, color: "#000", whiteSpace: "pre", lineHeight: "12px" }}>
        MACD(12,26,9) 0.018970 0.014151
      </div>
      <div style={{ position: "absolute", left: 0, top: 937, width: 2000, height: 3, background: "#3c3c3c" }} />
    </div>
  );
}
